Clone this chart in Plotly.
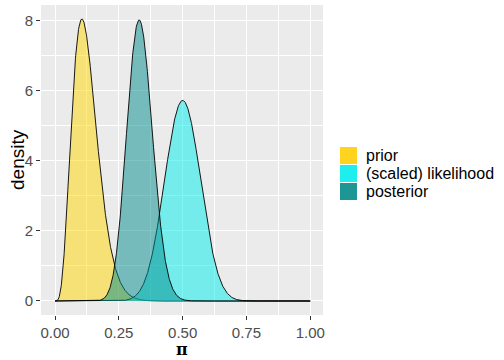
import numpy as np
from math import lgamma
import plotly.graph_objects as go

# Beta-Binomial model parameters
prior_alpha = 5
prior_beta = 35
y_success = 25
n_trials = 50

series_names = ["prior", "(scaled) likelihood", "posterior"]
fill_colors = ["rgba(255,215,0,0.5)", "rgba(0,238,238,0.5)", "rgba(0,139,139,0.5)"]
legend_colors = ["#FFD31E", "#1EEEEE", "#1E9696"]
x_ticks = [0.00, 0.25, 0.50, 0.75, 1.00]
x_tick_labels = ["0.00", "0.25", "0.50", "0.75", "1.00"]
y_ticks = [0, 2, 4, 6, 8]

params = [
    (prior_alpha, prior_beta),
    (y_success + 1, n_trials - y_success + 1),
    (prior_alpha + y_success, prior_beta + n_trials - y_success),
]

x = np.linspace(0, 1, 1001)


def beta_pdf(xv, a, b):
    lb = lgamma(a) + lgamma(b) - lgamma(a + b)
    out = np.exp((a - 1) * np.log(np.clip(xv, 1e-300, None)) + (b - 1) * np.log(np.clip(1 - xv, 1e-300, None)) - lb)
    return out


fig = go.Figure()
for name, (a, b), fc in zip(series_names, params, fill_colors):
    fig.add_trace(go.Scatter(
        x=x, y=beta_pdf(x, a, b), name=name, mode="lines",
        line=dict(color="black", width=0.9), fill="tozeroy", fillcolor=fc,
        showlegend=False, hoverinfo="skip",
    ))

# legend drawn as keys + labels to the right of the panel
L, R, T, B = 41, 323, 5, 315
W, H = 504, 360
pw, ph = R - L, B - T


def px_to_paper_x(p):
    return (p - L) / pw


def px_to_paper_y(p):
    return (B - p) / ph


shapes = []
annotations = []
key_top = 147
for i, (name, col) in enumerate(zip(series_names, legend_colors)):
    y0 = key_top + i * 18
    shapes.append(dict(type="rect", xref="paper", yref="paper",
                       x0=px_to_paper_x(340), x1=px_to_paper_x(357),
                       y0=px_to_paper_y(y0 + 17), y1=px_to_paper_y(y0),
                       fillcolor=col, line=dict(width=0)))
    annotations.append(dict(xref="paper", yref="paper", x=px_to_paper_x(364), y=px_to_paper_y(y0 + 8.5),
                            text=name, showarrow=False, xanchor="left", yanchor="middle",
                            font=dict(family="Liberation Sans, Arial", size=16, color="black")))

# axis titles
annotations.append(dict(xref="paper", yref="paper", x=px_to_paper_x(182), y=px_to_paper_y(350),
                        text="<b>π</b>", showarrow=False, xanchor="center", yanchor="middle",
                        font=dict(family="DejaVu Serif, serif", size=16, color="black")))
annotations.append(dict(xref="paper", yref="paper", x=px_to_paper_x(17), y=px_to_paper_y(160),
                        text="density", showarrow=False, xanchor="center", yanchor="middle", textangle=-90,
                        font=dict(family="Liberation Sans, Arial", size=19, color="black")))

fig.update_layout(
    width=W, height=H,
    margin=dict(l=L, r=W - R, t=T, b=H - B),
    paper_bgcolor="white", plot_bgcolor="#EBEBEB",
    showlegend=False,
    shapes=shapes, annotations=annotations,
    font=dict(family="Liberation Sans, Arial"),
    xaxis=dict(range=[-0.055, 1.05], tickvals=x_ticks, ticktext=x_tick_labels, automargin=False,
               showgrid=True, gridcolor="white", gridwidth=1.1, zeroline=False,
               ticks="outside", ticklen=4, tickcolor="#333333", tickwidth=1,
               tickfont=dict(size=15, color="#4D4D4D"),
               minor=dict(tickvals=[0.125, 0.375, 0.625, 0.875], showgrid=True, gridcolor="white", gridwidth=0.5, ticks=""),
               showline=False, fixedrange=True),
    yaxis=dict(range=[-0.4, 8.45], tickvals=y_ticks, automargin=False,
               showgrid=True, gridcolor="white", gridwidth=1.1, zeroline=False,
               ticks="outside", ticklen=4, tickcolor="#333333", tickwidth=1,
               tickfont=dict(size=15, color="#4D4D4D"),
               minor=dict(tickvals=[1, 3, 5, 7], showgrid=True, gridcolor="white", gridwidth=0.5, ticks=""),
               showline=False, fixedrange=True),
)

fig.write_html("out.html", config={"displayModeBar": False},
               post_script="document.body.style.margin='0';document.body.style.padding='0';")
